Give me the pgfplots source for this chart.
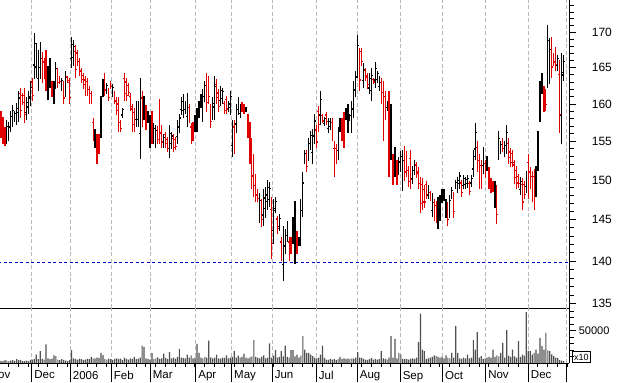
\documentclass[border=0pt]{standalone}
\usepackage{pgfplots}
\usepackage{pgfplotstable}
\pgfplotsset{compat=1.18}
\usepackage{fontspec}
\setmainfont{Liberation Sans}
\definecolor{dnc}{RGB}{224,0,0}
\definecolor{volc}{RGB}{80,80,80}
\definecolor{gridc}{RGB}{185,185,185}
\definecolor{linec}{RGB}{0,0,190}
\pgfplotsset{
  lab/.style={font=\fontsize{11.5}{13}\selectfont},
}
\pgfplotstableread{
i o h l c d v
0 158.3 159.0 155.5 156.4 1 4000
1 157.5 158.2 154.6 155.5 1 3500
2 156.4 156.9 154.4 155.0 1 5000
3 155.6 157.8 154.6 157.0 0 4200
4 155.8 157.5 155.0 156.9 0 3800
5 157.1 159.0 156.3 158.3 0 4500
6 157.8 159.8 156.9 159.1 0 5200
7 158.0 159.1 157.5 158.7 0 4000
8 158.1 160.1 157.2 159.4 0 6500
9 158.9 161.8 157.6 160.8 0 5000
10 161.4 162.2 158.1 159.1 1 5500
11 161.2 161.5 159.8 160.2 1 4000
12 161.2 162.2 157.4 158.6 1 3800
13 158.8 161.0 157.8 160.2 0 4500
14 159.6 161.8 158.7 161.0 0 3500
15 160.8 163.2 159.7 162.3 0 5500
16 163.0 163.6 160.4 161.2 1 6000
17 165.4 170.0 163.4 168.4 0 7000
18 165.1 168.5 163.6 167.3 0 13700
19 163.5 167.5 161.8 166.1 0 6500
20 165.0 168.7 163.4 167.4 0 18800
21 166.3 167.2 162.9 164.0 1 7000
22 165.8 166.4 163.4 164.2 1 6000
23 166.4 167.5 161.8 163.2 1 29000
24 161.9 165.3 160.5 164.1 0 8000
25 163.5 166.4 162.2 165.4 0 6500
26 162.7 163.2 160.9 161.5 1 7500
27 161.0 163.2 160.0 162.4 0 12200
28 163.2 165.8 162.1 164.9 0 11200
29 164.4 165.0 162.2 162.9 1 6000
30 163.7 163.9 162.8 163.1 1 5000
31 162.3 163.6 161.8 163.2 0 6500
32 162.6 163.2 160.0 160.8 1 5500
33 162.0 164.6 160.9 163.7 0 4500
34 163.7 163.9 162.9 163.2 1 3500
35 162.9 163.6 160.0 160.9 1 5000
36 166.3 169.4 165.0 168.3 0 20300
37 166.4 168.9 165.3 168.0 0 8000
38 167.3 168.2 163.6 164.8 1 7000
39 167.1 167.5 165.3 165.9 1 6000
40 165.9 166.4 163.9 164.5 1 7500
41 164.6 165.0 162.9 163.4 1 6500
42 163.9 164.3 162.1 162.7 1 5500
43 163.3 163.9 161.1 161.8 1 6000
44 163.1 163.6 161.1 161.7 1 7000
45 162.0 162.5 160.0 160.6 1 6500
46 161.4 161.8 160.0 160.5 1 10200
47 157.5 158.1 155.0 155.8 1 8000
48 154.9 156.7 154.1 156.1 0 7500
49 155.1 155.9 152.1 153.1 1 9000
50 155.4 155.9 153.4 154.0 1 8500
51 157.1 161.1 155.4 159.7 0 16300
52 161.7 163.4 160.9 162.8 0 12700
53 163.6 164.2 161.1 161.9 1 7000
54 161.9 162.9 161.4 162.5 0 6000
55 161.8 162.2 160.4 160.9 1 7500
56 163.0 163.2 162.1 162.4 1 6500
57 161.5 162.8 160.9 162.3 0 5500
58 161.4 161.8 160.0 160.5 1 7000
59 160.4 160.9 158.5 159.1 1 8000
60 160.0 160.9 156.3 157.5 1 6500
61 157.5 157.8 156.3 156.7 1 7500
62 158.5 159.5 158.1 159.2 0 5500
63 163.5 164.3 160.4 161.4 1 9000
64 163.0 163.6 160.4 161.2 1 7000
65 162.5 162.9 161.1 161.6 1 6000
66 161.0 161.5 159.1 159.7 1 8000
67 159.3 160.0 156.3 157.2 1 7000
68 158.9 159.5 156.3 157.1 1 10200
69 157.9 160.4 156.9 159.5 0 6500
70 157.9 160.4 156.9 159.5 0 7500
71 156.0 163.6 152.7 160.9 0 9000
72 160.8 161.8 156.9 158.1 1 27400
73 158.8 161.1 157.8 160.3 0 25400
74 159.1 159.8 156.5 157.3 1 8000
75 157.9 159.1 157.4 158.7 0 7000
76 155.4 158.5 154.1 157.4 0 6000
77 158.1 159.0 154.6 155.7 1 16300
78 155.5 157.4 154.7 156.7 0 7000
79 155.0 157.1 154.1 156.4 0 8000
80 156.5 157.0 154.6 155.2 1 9500
81 159.5 160.7 154.6 156.1 1 7000
82 156.5 157.1 154.1 154.9 1 8000
83 154.6 155.9 154.1 155.5 0 15200
84 155.9 156.3 154.1 154.7 1 8500
85 155.2 155.6 153.6 154.1 1 7000
86 154.1 157.1 152.8 156.0 0 17300
87 154.7 156.3 154.0 155.7 0 8000
88 155.4 155.9 153.6 154.2 1 9000
89 155.2 155.6 153.8 154.3 1 7500
90 155.6 157.8 154.7 157.0 0 10000
91 156.9 158.7 156.1 158.1 0 22400
92 159.2 160.9 158.5 160.3 0 9000
93 159.1 161.4 158.1 160.6 0 8500
94 159.2 160.4 158.7 160.0 0 8000
95 158.3 161.5 156.9 160.4 0 13700
96 159.5 160.0 157.4 158.1 1 9000
97 156.9 157.4 154.7 155.4 1 12200
98 157.1 157.6 155.0 155.7 1 8000
99 157.0 158.5 156.3 158.0 0 9000
100 157.3 159.5 156.3 158.7 0 30000
101 158.8 160.4 158.1 159.8 0 16300
102 160.0 161.4 159.4 160.9 0 9000
103 159.0 162.1 157.6 161.0 0 8000
104 161.1 163.2 160.2 162.5 0 10000
105 163.1 164.2 158.9 160.2 1 9000
106 163.1 163.9 160.0 161.0 1 35000
107 159.4 160.0 156.8 157.6 1 9500
108 158.7 160.9 157.8 160.1 0 8000
109 159.6 163.9 157.8 162.4 0 9000
110 162.7 163.4 160.0 160.9 1 13700
111 161.5 162.1 158.9 159.7 1 8000
112 160.5 162.5 159.7 161.8 0 7500
113 160.7 162.2 160.0 161.7 0 9000
114 160.1 160.4 158.7 159.1 1 8500
115 160.6 161.1 158.7 159.3 1 12200
116 159.4 160.4 158.9 160.0 0 8000
117 159.5 161.8 158.5 161.0 0 9000
118 154.4 157.8 152.9 156.6 0 10000
119 156.9 157.8 153.4 154.5 1 18800
120 157.3 160.0 156.1 159.0 0 9000
121 159.2 160.9 158.5 160.3 0 12000
122 158.7 160.0 158.1 159.5 0 9000
123 159.9 160.2 158.9 159.2 1 10000
124 159.7 160.0 158.7 159.0 1 15200
125 159.1 159.6 158.9 159.4 0 9000
126 158.0 158.7 155.4 156.2 1 8000
127 156.5 157.6 152.1 153.5 1 9500
128 154.1 155.4 148.8 150.5 1 11000
129 152.3 153.4 147.9 149.3 1 35600
130 150.0 150.7 147.2 148.1 1 10000
131 148.5 148.8 147.2 147.6 1 9000
132 145.7 148.3 144.6 147.4 0 8000
133 146.9 147.6 144.1 145.0 1 10000
134 145.6 148.8 144.3 147.7 0 12200
135 146.4 149.1 145.2 148.1 0 8000
136 147.3 150.0 146.2 149.0 0 9000
137 147.5 149.7 146.6 148.9 0 30500
138 146.3 147.8 140.2 142.1 1 9000
139 143.7 147.6 142.0 146.2 0 12000
140 146.4 147.8 145.8 147.3 0 20300
141 145.1 145.5 143.3 143.9 1 9000
142 144.2 145.7 143.6 145.2 0 10000
143 142.3 142.9 140.0 140.7 1 18800
144 139.6 144.2 137.6 142.6 0 11000
145 141.8 143.9 140.9 143.2 0 27400
146 143.1 144.9 142.3 144.3 0 10000
147 142.3 142.9 140.0 140.7 1 9000
148 142.5 142.9 140.8 141.3 1 20300
149 143.0 145.3 142.0 144.5 0 20300
150 142.0 147.4 139.7 145.5 0 11000
151 143.0 143.6 140.8 141.5 1 13700
152 142.1 142.9 141.8 142.6 0 9000
153 143.5 147.6 141.8 146.2 0 12000
154 147.1 151.0 145.4 149.6 0 41700
155 152.6 153.8 152.1 153.4 0 21300
156 153.2 153.8 151.0 151.7 1 16300
157 153.3 155.4 152.4 154.7 0 16300
158 154.6 156.4 153.8 155.8 0 13700
159 153.5 156.7 152.1 155.6 0 11200
160 155.8 158.7 154.6 157.7 0 9000
161 156.5 157.1 154.1 154.9 1 8000
162 159.0 159.7 156.3 157.2 1 9000
163 158.5 161.8 157.1 160.6 0 13700
164 158.4 158.7 157.4 157.7 1 27400
165 157.4 158.3 157.0 158.0 0 8600
166 158.5 158.9 157.1 157.6 1 6000
167 156.7 158.1 156.1 157.6 0 5500
168 157.0 158.1 156.5 157.7 0 7000
169 157.5 158.1 155.0 155.8 1 6000
170 154.1 155.0 150.4 151.6 1 6500
171 154.1 154.6 152.1 152.7 1 5000
172 153.8 156.9 152.5 155.8 0 6500
173 156.8 158.1 156.3 157.7 0 10200
174 157.5 158.1 155.0 155.8 1 7000
175 157.9 158.9 154.1 155.3 1 8000
176 158.3 159.5 157.8 159.1 0 7000
177 157.3 160.0 156.1 159.0 0 7500
178 158.0 158.6 157.7 158.4 0 7000
179 157.4 160.4 156.1 159.3 0 8000
180 159.6 163.2 158.1 161.9 0 7500
181 162.0 164.6 160.9 163.7 0 9000
182 165.4 169.7 163.6 168.2 0 17300
183 166.6 167.8 161.8 163.3 1 9000
184 167.3 167.8 165.3 165.9 1 8600
185 163.2 165.6 162.2 164.8 0 7000
186 164.6 165.0 163.2 163.7 1 6000
187 163.9 164.3 162.1 162.7 1 5500
188 162.2 164.2 161.4 163.5 0 6500
189 161.8 165.0 160.4 163.9 0 8600
190 163.4 163.6 162.8 163.0 1 6000
191 163.3 165.8 162.2 164.9 0 7000
192 163.4 164.6 162.9 164.2 0 6000
193 162.4 163.9 161.8 163.4 0 6500
194 162.9 163.6 160.0 160.9 1 18800
195 161.6 163.2 155.0 157.1 1 8000
196 161.0 161.8 157.8 158.8 1 7000
197 159.5 160.4 159.1 160.1 0 6000
198 159.5 161.8 150.4 153.3 1 9000
199 154.8 160.0 152.5 158.1 0 41700
200 152.6 153.4 149.4 150.4 1 9000
201 151.5 154.2 150.4 153.3 0 37600
202 151.9 152.5 149.4 150.2 1 8000
203 151.3 152.9 150.6 152.3 0 16300
204 151.8 153.7 151.0 153.0 0 13700
205 150.2 153.8 148.6 152.5 0 7000
206 153.5 154.4 149.8 151.0 1 6500
207 153.0 153.7 150.4 151.2 1 7000
208 151.3 151.8 149.1 149.8 1 6000
209 152.8 153.8 148.8 150.1 1 7500
210 150.2 151.8 149.5 151.2 0 8000
211 151.2 152.5 150.6 152.0 0 7000
212 151.9 152.3 150.3 150.8 1 9000
213 151.0 151.6 148.8 149.5 1 32500
214 149.5 150.4 145.8 147.0 1 76200
215 149.4 150.2 146.2 147.2 1 21300
216 148.8 149.4 146.5 147.2 1 18800
217 149.4 149.8 147.6 148.2 1 7000
218 148.1 149.4 147.6 149.0 0 8000
219 148.4 148.6 147.4 147.7 1 9000
220 146.2 148.3 145.3 147.6 0 10000
221 147.1 147.6 144.9 145.6 1 12200
222 146.8 147.4 144.6 145.3 1 11200
223 145.1 147.9 143.9 146.9 0 10000
224 145.9 148.1 144.9 147.3 0 9000
225 147.6 148.8 147.1 148.4 0 10200
226 147.8 148.8 147.3 148.4 0 8000
227 145.9 147.6 145.2 147.0 0 12200
228 146.6 147.2 144.2 145.0 1 9000
229 146.1 148.1 145.2 147.4 0 8000
230 148.1 149.1 147.6 148.7 0 16300
231 147.8 148.5 145.2 146.0 1 9000
232 149.2 150.0 148.8 149.7 0 56900
233 148.9 150.4 148.3 149.9 0 16300
234 149.5 151.0 148.8 150.5 0 8000
235 149.6 150.0 147.9 148.4 1 7000
236 149.3 150.6 148.8 150.2 0 9000
237 149.4 150.4 148.9 150.0 0 8000
238 149.5 150.6 149.0 150.2 0 13700
239 149.5 149.8 148.1 148.5 1 8000
240 149.6 150.6 149.1 150.2 0 9000
241 151.4 153.8 150.4 153.0 0 35600
242 154.0 157.4 152.5 156.2 0 21300
243 154.2 155.0 151.0 152.0 1 47800
244 152.5 153.4 148.8 150.0 1 9000
245 151.8 152.5 148.8 149.7 1 11200
246 151.8 154.2 150.8 153.4 0 7000
247 152.1 152.5 150.3 150.9 1 8000
248 151.8 153.1 151.2 152.6 0 9000
249 151.0 151.6 148.8 149.5 1 10000
250 149.8 150.2 148.4 148.9 1 9000
251 149.5 149.8 148.5 148.8 1 21300
252 147.4 149.8 146.4 149.0 0 10000
253 148.4 149.4 144.5 145.7 1 12200
254 153.7 156.4 152.5 155.4 0 11000
255 153.9 155.0 153.4 154.6 0 16300
256 155.0 155.4 153.6 154.1 1 31500
257 153.5 155.0 152.9 154.5 0 9000
258 154.5 157.1 153.4 156.2 0 50800
259 154.7 155.4 152.1 152.9 1 12000
260 153.6 154.1 151.6 152.2 1 10000
261 153.4 153.8 151.6 152.2 1 21300
262 151.9 152.5 149.5 150.3 1 11000
263 151.2 151.8 148.8 149.6 1 9000
264 150.4 150.8 149.0 149.5 1 34000
265 148.8 150.4 148.1 149.8 0 10000
266 149.4 150.2 146.2 147.2 1 13700
267 149.4 149.8 147.6 148.2 1 12000
268 149.2 151.2 148.3 150.5 0 78200
269 152.2 153.4 147.6 149.1 1 18800
270 151.0 151.6 148.8 149.5 1 18800
271 150.4 151.2 147.2 148.2 1 13700
272 150.4 151.4 146.2 147.5 1 16300
273 149.1 151.8 147.9 150.8 0 21300
274 152.8 156.4 151.2 155.1 0 15000
275 159.3 163.2 157.6 161.8 0 39100
276 162.2 164.2 161.4 163.5 0 26400
277 161.8 162.5 158.9 159.8 1 21300
278 161.5 162.1 159.1 159.9 1 46700
279 164.9 171.1 162.2 168.9 0 20000
280 164.7 169.2 162.8 167.6 0 18800
281 168.2 169.4 163.6 165.1 1 14000
282 166.7 167.1 165.3 165.8 1 11200
283 167.3 168.0 164.6 165.5 1 9000
284 165.3 166.8 164.6 166.3 0 8600
285 164.1 166.1 156.1 158.6 1 5000
286 158.4 167.1 154.6 164.0 0 4500
287 164.3 166.8 163.2 165.9 0 3500
}\ohlc
% build one jump-separated path per colour from the table rows
\newcommand\buildohlc{%
  \pgfplotstablegetrowsof{\ohlc}%
  \pgfmathtruncatemacro\lastrow{\pgfplotsretval-1}%
  \gdef\blackpath{}\gdef\redpath{}%
  \foreach \r in {0,...,\lastrow}{%
    \pgfplotstablegetelem{\r}{i}\of\ohlc\let\vi\pgfplotsretval
    \pgfplotstablegetelem{\r}{o}\of\ohlc\let\vo\pgfplotsretval
    \pgfplotstablegetelem{\r}{h}\of\ohlc\let\vh\pgfplotsretval
    \pgfplotstablegetelem{\r}{l}\of\ohlc\let\vl\pgfplotsretval
    \pgfplotstablegetelem{\r}{c}\of\ohlc\let\vc\pgfplotsretval
    \pgfplotstablegetelem{\r}{d}\of\ohlc\let\vd\pgfplotsretval
    \pgfmathsetmacro\xl{\vi-0.6}%
    \pgfmathsetmacro\xr{\vi+0.6}%
    \edef\seg{(\vi,\vl) (\vi,\vh) (\vi,nan) (\xl,\vo) (\vi,\vo) (\vi,nan) (\vi,\vc) (\xr,\vc) (\vi,nan) }%
    \ifnum\vd=1 \xdef\redpath{\redpath\seg}\else\xdef\blackpath{\blackpath\seg}\fi
  }%
}
\begin{document}
\buildohlc
\begin{tikzpicture}
\useasboundingbox (0,0) rectangle (617pt,382pt);
% price panel
\begin{axis}[
  scale only axis, width=582pt, height=308.3pt,
  at={(-12.7pt,73.7pt)}, anchor=south west,
  xmin=-7, xmax=289.95, ymode=log, ymin=134.5, ymax=174.8,
  axis x line*=bottom, axis y line*=right,
  axis line style={-, line width=1.1pt},
  xtick={15.7,35.4,56.3,76.2,99.4,117.7,138.4,160.9,181.8,203.7,225.3,247.3,269.1,288.6},
  xticklabels={}, xtick style={draw=none},
  xmajorgrids, major x grid style={gridc, dash pattern=on 4pt off 2.5pt, line width=0.9pt},
  ytick={135,140,145,150,155,160,165,170},
  yticklabels={135,140,145,150,155,160,165,170},
  minor ytick={136,137,138,139,141,142,143,144,146,147,148,149,151,152,153,154,156,157,158,159,161,162,163,164,166,167,168,169,171,172,173,174},
  tick align=outside, major tick length=7pt, minor tick length=4.5pt,
  ytick style={line width=0.9pt, black}, minor tick style={line width=0.9pt},
  yticklabel style={font=\fontsize{12}{13}\selectfont, anchor=west, xshift=12pt},
  unbounded coords=jump,
]
\addplot[linec, line width=1pt, dash pattern=on 3pt off 2.5pt, forget plot] coordinates {(-7,139.8) (289.95,139.8)};
\edef\temp{\noexpand\addplot[black, line width=1.2pt, mark=none, unbounded coords=jump] coordinates {\blackpath};}\temp
\edef\temp{\noexpand\addplot[dnc, line width=1.2pt, mark=none, unbounded coords=jump] coordinates {\redpath};}\temp
\end{axis}
% volume panel
\begin{axis}[
  scale only axis, width=582pt, height=55.2pt,
  at={(-12.7pt,18.5pt)}, anchor=south west,
  xmin=-7, xmax=289.95, ymin=0, ymax=84150,
  axis x line*=bottom, axis y line*=right,
  axis line style={-, line width=1.1pt},
  xtick={15.7,35.4,56.3,76.2,99.4,117.7,138.4,160.9,181.8,203.7,225.3,247.3,269.1,288.6},
  xticklabels={}, xtick style={draw=none},
  xmajorgrids, major x grid style={gridc, dash pattern=on 4pt off 2.5pt, line width=0.9pt},
  scaled y ticks=false,
  ytick={50000}, yticklabels={50000},
  minor ytick={10000,20000,30000,40000,60000,70000,80000},
  tick align=outside, major tick length=7pt, minor tick length=4.5pt,
  ytick style={line width=0.9pt, black}, minor tick style={line width=0.9pt},
  yticklabel style={font=\fontsize{11}{13}\selectfont, anchor=west, xshift=-1pt},
]
\addplot[ybar, bar width=1.2pt, fill=volc, draw=none] table[x=i, y=v] {\ohlc};
\end{axis}
% month axis
\begin{axis}[
  scale only axis, width=582pt, height=55.2pt,
  at={(-12.7pt,18.5pt)}, anchor=south west,
  xmin=-7, xmax=289.95, ymin=0, ymax=1,
  axis x line*=bottom, axis y line=none,
  axis line style={-, line width=1.1pt},
  xtick={-7,15.7,35.4,56.3,76.2,99.4,117.7,138.4,160.9,181.8,203.7,225.3,247.3,269.1,288.6},
  xticklabels={Nov,Dec,2006,Feb,Mar,Apr,May,Jun,Jul,Aug,Sep,Oct,Nov,Dec,{}},
  minor xtick={-1.1,3.9,...,287},
  tick align=outside, major tick length=18pt, minor tick length=3.5pt,
  xtick style={line width=0.9pt, black}, minor tick style={line width=0.9pt, black},
  ytick=\empty,
  xticklabel style={lab, anchor=north west, xshift=-1pt, yshift=14pt},
]
\end{axis}
\node[draw, line width=0.8pt, inner sep=0pt, minimum width=18.3pt, minimum height=11.6pt, anchor=south west, font=\fontsize{9}{10}\selectfont] at (571.7pt,18.7pt) {x10};
\end{tikzpicture}
\end{document}
